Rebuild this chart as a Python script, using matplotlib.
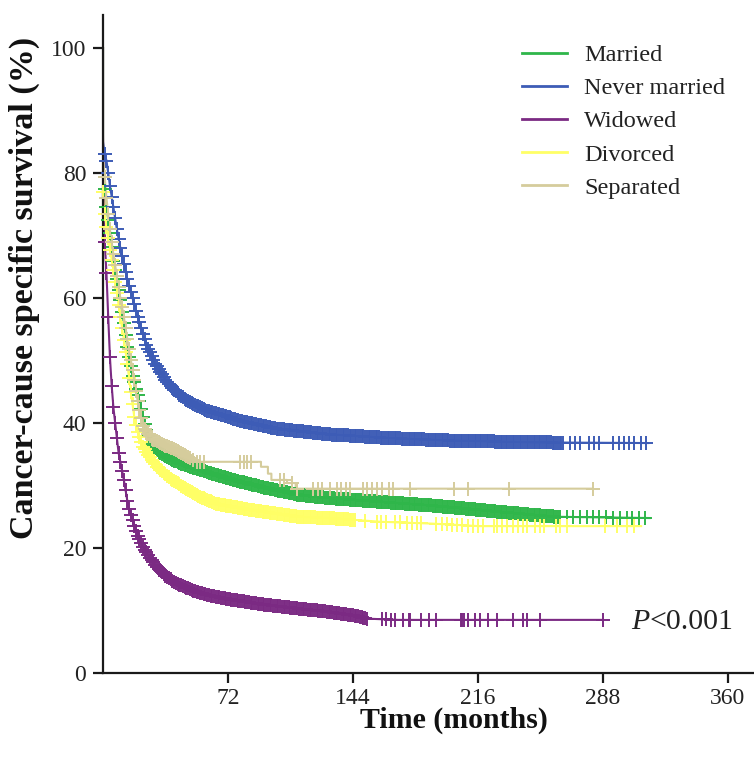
import numpy as np
import matplotlib
matplotlib.use("Agg")
import matplotlib.pyplot as plt
from matplotlib.lines import Line2D

plt.rcParams['font.family'] = ['Liberation Serif', 'DejaVu Serif']

# ---------------- data ----------------
groups = ["Married", "Never married", "Widowed", "Divorced", "Separated"]
colors = ["#2fb64a", "#3d5cb6", "#7b2a83", "#ffff66", "#d5cc9c"]

married_t = [0, 0, 0.5, 2, 4, 6, 8, 10, 12, 14, 17, 21, 24, 27, 32, 37, 45, 56, 75, 94, 113, 130, 160, 190, 217, 240, 261, 315]
married_s = [100, 80, 79, 74.6, 70.4, 66, 63, 59.7, 56, 52.2, 47.5, 43.5, 39.8, 37, 35.3, 34.5, 33.5, 32.5, 30.9, 29.6, 28.5, 28, 27.4, 26.8, 26.1, 25.5, 25.0, 24.8]
married_dense = (1, 262)
married_cens = [263, 267, 271, 275, 279, 282, 286, 290, 294, 298, 302, 305, 309, 312]

never_t = [0, 0, 1, 2, 4, 6, 8, 10, 12, 14, 16, 20, 25, 30, 37, 44, 50, 60, 80, 100, 130, 165, 200, 250, 314]
never_s = [100, 85, 83, 82, 78, 74.5, 71, 68, 65.5, 63, 61, 57, 52.5, 49.5, 46.5, 44.5, 43.3, 42, 40.3, 39.1, 38.2, 37.6, 37.2, 36.9, 36.8]
never_dense = (1, 265)
never_cens = [269, 272, 275, 280, 283, 286, 294, 297, 300, 303, 306, 310, 313]

widowed_t = [0, 0, 0.5, 1, 2, 3, 4, 5, 6, 7, 9, 12, 14.6, 17.5, 20, 23, 27, 31, 36, 42, 50, 56, 65, 75, 94, 113, 130, 145, 152, 170, 288]
widowed_s = [100, 86, 75, 69, 64, 57, 50.5, 46, 42.5, 40, 35.2, 30.9, 26.6, 24, 22, 20.2, 18.4, 17, 15.6, 14.4, 13.4, 12.8, 12.2, 11.7, 10.9, 10.3, 9.8, 9.2, 8.7, 8.5, 8.5]
widowed_dense = (1, 152)
widowed_cens = [161, 163, 166, 168, 173, 176, 177, 183, 188, 192, 206, 207, 208, 210, 214, 217, 222, 227, 236, 242, 244, 252, 288]

divorced_t = [0, 0, 0.3, 2, 4, 6, 8, 10, 12, 14, 16, 18, 20, 23, 27, 31, 38, 46, 55, 65, 85, 113, 130, 160, 190, 217, 260, 310]
divorced_s = [100, 77, 75, 71.4, 67.7, 64.5, 60.8, 57, 53.3, 49.5, 45, 41, 38.5, 36.2, 34.5, 33, 31.3, 29.8, 28.3, 27.1, 26.1, 25, 24.8, 24.2, 23.9, 23.5, 23.5, 23.5]
divorced_dense = (1, 145)
divorced_cens = [0, 151, 158, 160, 163, 168, 171, 175, 178, 181, 183, 192, 195, 198, 201, 204, 207, 210,
                 213, 216, 219, 225, 227, 230, 233, 236, 239, 242, 244, 249, 252, 254, 261, 263, 267,
                 289, 296, 302, 306]

separated_t = [0, 0, 0.5, 2, 4, 6, 8, 10, 12, 14, 17, 20, 23, 28, 35, 42, 48, 54, 91, 91, 95, 95, 97, 97, 106, 106, 111, 111, 282]
separated_s = [100, 82, 81, 76, 71, 67, 63.5, 60, 57, 53.5, 48.5, 43.5, 39.5, 37.5, 36.5, 35.7, 34.8, 33.8, 33.8, 33.0, 33.0, 31.9, 31.9, 30.9, 30.9, 30.4, 30.4, 29.5, 29.5]
separated_dense = (1, 50)
separated_cens = [52, 54, 56, 58, 79, 81, 83, 85, 102, 104, 109, 112, 121, 124, 126, 131, 135, 137, 140,
                  142, 150, 152, 155, 158, 161, 165, 167, 177, 202, 210, 234, 282]

x_ticks = [72, 144, 216, 288, 360]
y_ticks = [0, 20, 40, 60, 80, 100]

series = [
    (married_t, married_s, married_dense, married_cens),
    (never_t, never_s, never_dense, never_cens),
    (widowed_t, widowed_s, widowed_dense, widowed_cens),
    (divorced_t, divorced_s, divorced_dense, divorced_cens),
    (separated_t, separated_s, separated_dense, separated_cens),
]

# ---------------- figure ----------------
W, H = 754, 757
fig = plt.figure(figsize=(W / 100, H / 100), dpi=100)
ax = fig.add_axes([103 / W, 84 / H, 651 / W, 658 / H])

for (t, s, dense, cens), col in zip(series, colors):
    t = np.asarray(t, float)
    s = np.asarray(s, float)
    ax.plot(t, s, color=col, lw=1.5, zorder=2)
    ct = np.concatenate([np.arange(dense[0], dense[1] + 1), np.asarray(cens, float)])
    ct = ct[ct <= t[-1]]
    cy = np.interp(ct, t, s)
    ax.plot(ct, cy, ls='none', marker='+', ms=9.5, mew=1.4, color=col, zorder=3, clip_on=False)

ax.set_xlim(0, 375)
ax.set_ylim(0, 105.3)
ax.set_xticks(x_ticks)
ax.set_xticklabels([str(v) for v in x_ticks])
ax.set_yticks(y_ticks)
ax.set_yticklabels([str(v) for v in y_ticks])

for side in ['top', 'right']:
    ax.spines[side].set_visible(False)
for side in ['left', 'bottom']:
    ax.spines[side].set_linewidth(1.6)
    ax.spines[side].set_color('#1a1a1a')
ax.tick_params(axis='both', direction='out', length=7.5, width=1.6, color='#1a1a1a',
               labelsize=17, labelcolor='#222222')
ax.tick_params(axis='y', pad=4.5)
ax.tick_params(axis='x', pad=3)

ax.set_xlabel('Time (months)', fontsize=21.5, fontweight='bold', color='#111111')
ax.xaxis.set_label_coords((454 - 103) / 651, (673 - 707) / 658)
ax.set_ylabel('Cancer-cause specific survival (%)', fontsize=24.5, fontweight='bold', color='#111111')
ax.yaxis.set_label_coords((40 - 103) / 651, (673 - 288) / 658)

handles = [Line2D([], [], color=c, lw=2) for c in colors]
leg = fig.legend(handles, groups, loc='upper left', bbox_to_anchor=(522 / W, 1 - 44 / H),
                 frameon=False, fontsize=17.5, handlelength=1.85, handletextpad=0.7,
                 labelspacing=0.46, borderpad=0, borderaxespad=0)
for txt in leg.get_texts():
    txt.set_color('#222222')

tP = ax.text(304.5, 8.2, 'P', fontsize=21.5, style='italic', va='center', ha='left', color='#222222')
ax.annotate('<0.001', xy=(1, 0), xycoords=tP, va='bottom', ha='left', fontsize=21.5, color='#222222')

fig.savefig('out.png', dpi=100)
